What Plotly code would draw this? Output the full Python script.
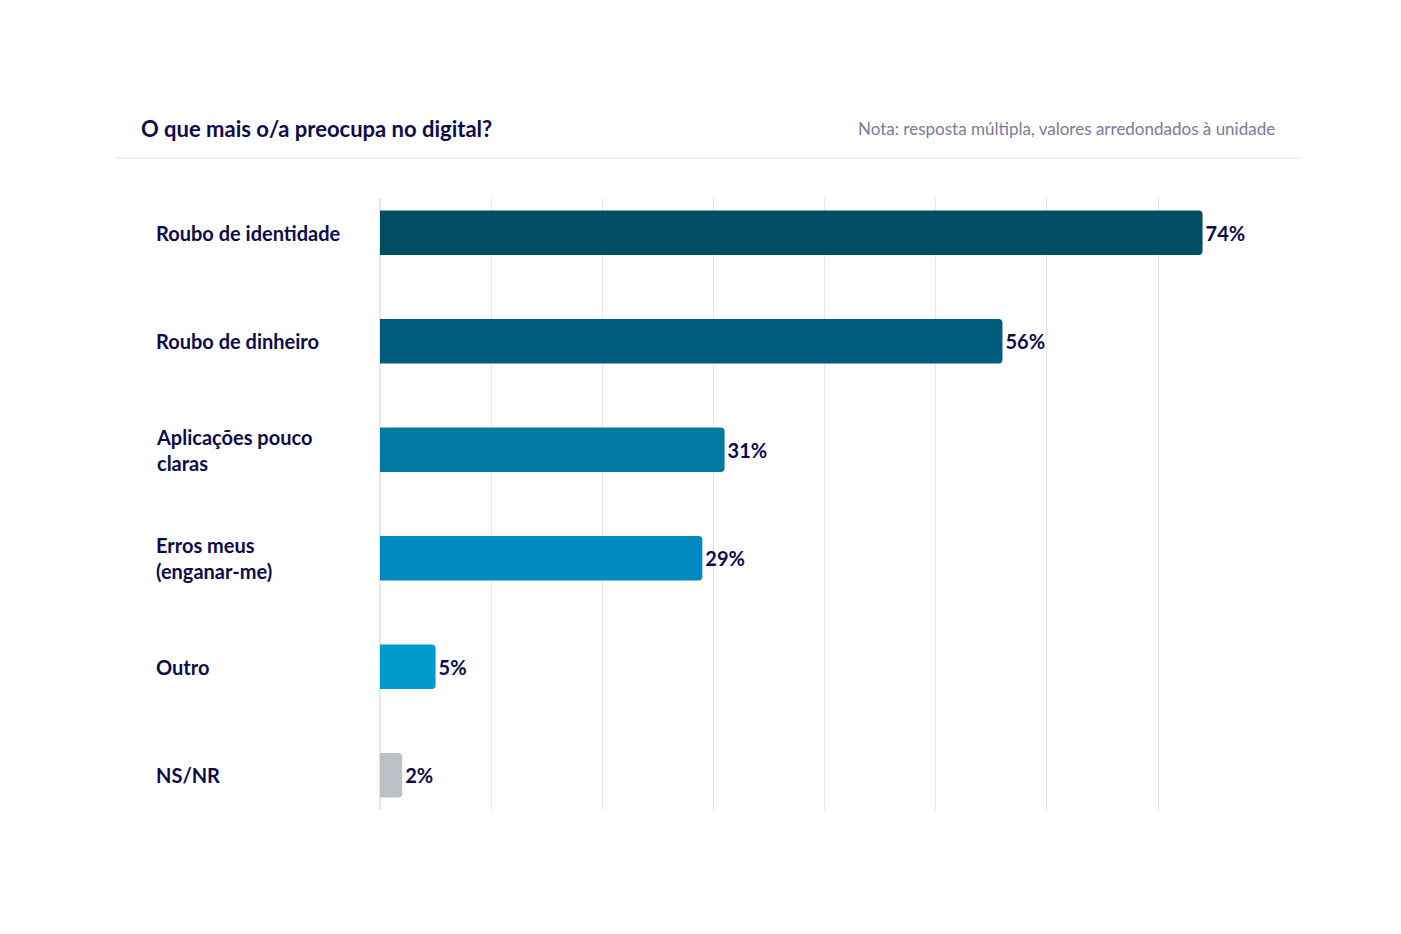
import plotly.graph_objects as go

categories = ["Roubo de identidade", "Roubo de dinheiro", "Aplicações pouco<br>claras",
              "Erros meus<br>(enganar-me)", "Outro", "NS/NR"]
values = [74, 56, 31, 29, 5, 2]
colors = ["#004d64", "#005c7c", "#0079a3", "#0089c0", "#009bcc", "#bdc1c7"]
navy = "#0d0b4d"

fig = go.Figure(go.Bar(
    x=values, y=list(range(len(categories))), orientation="h",
    marker=dict(color=colors, line=dict(width=0)), width=0.41,
    text=[f"{v}%" for v in values], textposition="outside", cliponaxis=False,
    textfont=dict(family="Lato", size=20, color=navy, weight="bold"),
    hoverinfo="skip"))

for i, c in enumerate(categories):
    fig.add_annotation(x=0, xref="paper", xshift=-226, y=i, yref="y", text=c,
                       showarrow=False, xanchor="left", align="left",
                       font=dict(family="Lato", size=20, color=navy, weight="bold"))

fig.add_annotation(x=0, xref="paper", xshift=-241, y=1, yref="paper", yshift=70,
                   text="O que mais o/a preocupa no digital?", showarrow=False,
                   xanchor="left", yanchor="middle",
                   font=dict(family="Lato", size=22, color=navy, weight="bold"))
fig.add_annotation(x=1, xref="paper", xshift=30, y=1, yref="paper", yshift=70,
                   text="Nota: resposta múltipla, valores arredondados à unidade",
                   showarrow=False, xanchor="right", yanchor="middle",
                   font=dict(family="Lato", size=17, color="#7b7a9c"))
fig.add_shape(type="line", xref="paper", yref="paper", x0=-264/867, x1=921/867,
              y0=1 + 40/612, y1=1 + 40/612, line=dict(color="#e3e3e8", width=1))

fig.update_layout(
    width=1401, height=934, paper_bgcolor="white", plot_bgcolor="white",
    margin=dict(l=372, r=162, t=190, b=132), showlegend=False,
    barcornerradius=4, uniformtext=dict(minsize=1),
    xaxis=dict(range=[0, 78], dtick=10, showgrid=True, gridcolor="#e6e6e9",
               showticklabels=False, zeroline=True, zerolinecolor="#e6e6e9", fixedrange=True),
    yaxis=dict(range=[5.32, -0.32], showticklabels=False, showgrid=False, zeroline=False),
)
fig.write_html("out.html")
